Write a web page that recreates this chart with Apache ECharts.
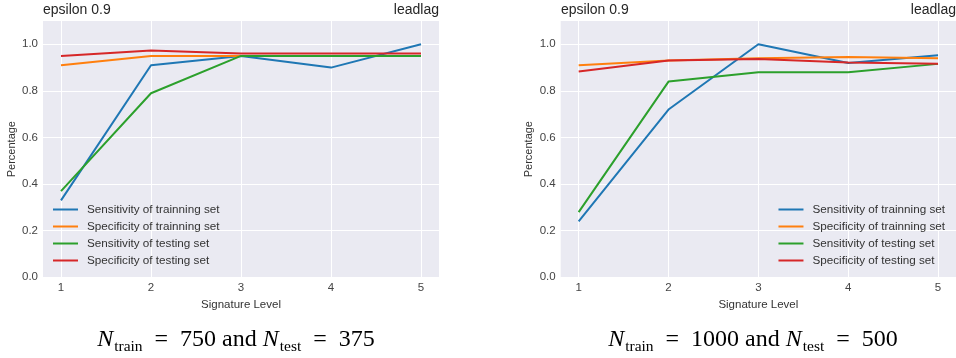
<!DOCTYPE html>
<html><head><meta charset="utf-8">
<script src="https://cdn.jsdelivr.net/npm/echarts@6/dist/echarts.min.js"></script>
<style>html,body{margin:0;padding:0;background:#fff}#c{width:956px;height:358px}</style>
</head><body><div id="c"></div>
<script>
const levels = [1, 2, 3, 4, 5];
const seriesNames = ['Sensitivity of trainning set', 'Specificity of trainning set', 'Sensitivity of testing set', 'Specificity of testing set'];
const colors = ['#1f77b4', '#ff7f0e', '#2ca02c', '#d62728'];
// Left panel: N_train = 750, N_test = 375
const leftSensTrain = [0.33, 0.91, 0.95, 0.90, 1.00];
const leftSpecTrain = [0.91, 0.95, 0.95, 0.95, 0.95];
const leftSensTest  = [0.37, 0.79, 0.95, 0.95, 0.95];
const leftSpecTest  = [0.95, 0.973, 0.96, 0.96, 0.96];
// Right panel: N_train = 1000, N_test = 500
const rightSensTrain = [0.24, 0.72, 1.00, 0.92, 0.953];
const rightSpecTrain = [0.91, 0.93, 0.94, 0.945, 0.94];
const rightSensTest  = [0.28, 0.84, 0.88, 0.88, 0.916];
const rightSpecTest  = [0.883, 0.93, 0.937, 0.922, 0.917];
const yTicks = [0, 0.2, 0.4, 0.6, 0.8, 1.0];

const leftData = [leftSensTrain, leftSpecTrain, leftSensTest, leftSpecTest];
const rightData = [rightSensTrain, rightSpecTrain, rightSensTest, rightSpecTest];

const font = 'Liberation Sans, Arial, sans-serif';
const textColor = '#262626';

function xAxis(gi) {
  return {
    type: 'value', gridIndex: gi, min: 0.8, max: 5.2,
    axisLine: {show: false}, axisTick: {show: false, customValues: levels},
    axisLabel: {customValues: levels, color: '#444', fontSize: 11.5, fontFamily: font, margin: 5,
      formatter: v => String(v)},
    splitLine: {show: true, lineStyle: {color: '#fff', width: 1}},
    name: 'Signature Level', nameLocation: 'middle', nameGap: 20,
    nameTextStyle: {color: '#333', fontSize: 11.5, fontFamily: font}
  };
}
function yAxis(gi) {
  return {
    type: 'value', gridIndex: gi, min: 0, max: 1.1,
    axisLine: {show: false}, axisTick: {show: false, customValues: yTicks},
    axisLabel: {customValues: yTicks, color: '#444', fontSize: 11.5, fontFamily: font, margin: 5,
      formatter: v => v.toFixed(1)},
    splitLine: {show: true, lineStyle: {color: '#fff', width: 1}},
    name: 'Percentage', nameLocation: 'middle', nameGap: 26,
    nameTextStyle: {color: '#333', fontSize: 11, fontFamily: font}
  };
}

const series = [];
[leftData, rightData].forEach((panel, gi) => {
  panel.forEach((vals, si) => {
    series.push({
      type: 'line', name: seriesNames[si], xAxisIndex: gi, yAxisIndex: gi,
      data: levels.map((lv, i) => [lv, vals[i]]),
      showSymbol: false, symbol: 'none',
      lineStyle: {color: colors[si], width: 2}, itemStyle: {color: colors[si]},
      z: 2 + si
    });
  });
});

function legend(left, top, right) {
  const l = {
    orient: 'vertical', top: top, data: seriesNames,
    icon: 'rect', itemWidth: 25, itemHeight: 2, itemGap: 4,
    textStyle: {color: '#333', fontSize: 11.7, fontFamily: font, padding: [0, 0, 0, 4], lineHeight: 13},
    selectedMode: false, padding: 0
  };
  if (right !== undefined) l.right = right; else l.left = left;
  return l;
}

const serif = 'Liberation Serif, DejaVu Serif, serif';
const capRich = {
  n: {fontFamily: serif, fontStyle: 'italic', fontSize: 24, color: '#111', lineHeight: 30},
  s: {fontFamily: serif, fontSize: 15.5, color: '#111', lineHeight: 30, verticalAlign: 'bottom', padding: [0, 0, 0, 1]},
  t: {fontFamily: serif, fontSize: 24, color: '#111', lineHeight: 30}
};

const option = {
  animation: false,
  backgroundColor: '#fff',
  color: colors,
  grid: [
    {left: 43, top: 21, width: 396, height: 256.3, show: true, backgroundColor: '#eaeaf2', borderWidth: 0},
    {left: 560.7, top: 21, width: 395.3, height: 256.3, show: true, backgroundColor: '#eaeaf2', borderWidth: 0}
  ],
  xAxis: [xAxis(0), xAxis(1)],
  yAxis: [yAxis(0), yAxis(1)],
  legend: [legend(53, 203), legend(null, 203, 11)],
  title: [
    {text: 'epsilon 0.9', left: 43, top: 3, padding: 0, textStyle: {color: textColor, fontSize: 14, fontWeight: 'normal', fontFamily: font}},
    {text: 'leadlag', right: 517, top: 3, padding: 0, textStyle: {color: textColor, fontSize: 14, fontWeight: 'normal', fontFamily: font}},
    {text: 'epsilon 0.9', left: 561, top: 3, padding: 0, textStyle: {color: textColor, fontSize: 14, fontWeight: 'normal', fontFamily: font}},
    {text: 'leadlag', right: 0, top: 3, padding: 0, textStyle: {color: textColor, fontSize: 14, fontWeight: 'normal', fontFamily: font}}
  ],
  graphic: [
    {type: 'text', x: 236, y: 340, style: {
      text: '{n|N}{s|train}{t|  =  750 and }{n|N}{s|test}{t|  =  375}', rich: capRich,
      align: 'center', verticalAlign: 'middle'}},
    {type: 'text', x: 753, y: 340, style: {
      text: '{n|N}{s|train}{t|  =  1000 and }{n|N}{s|test}{t|  =  500}', rich: capRich,
      align: 'center', verticalAlign: 'middle'}}
  ],
  series: series
};

const chart = echarts.init(document.getElementById('c'), null, {renderer: 'canvas'});
chart.setOption(option);
</script>
</body></html>
